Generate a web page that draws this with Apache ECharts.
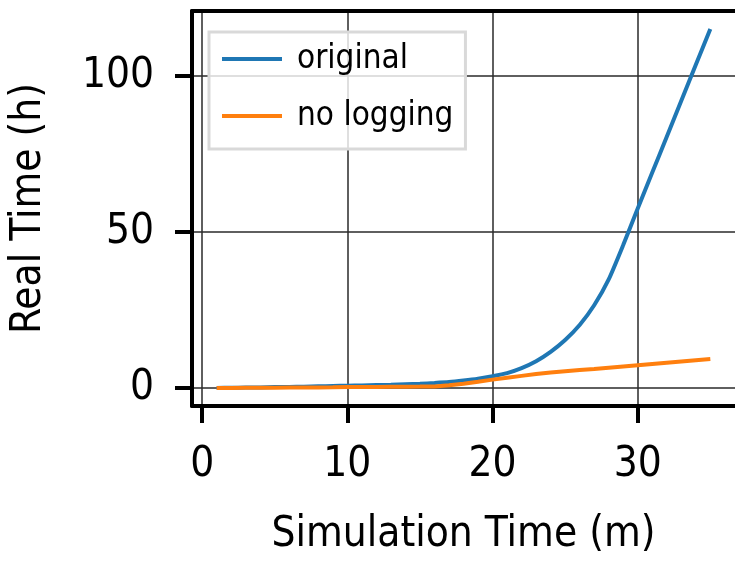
<!DOCTYPE html>
<html>
<head>
<meta charset="utf-8">
<script src="https://cdn.jsdelivr.net/npm/echarts@6/dist/echarts.min.js"></script>
<style>
  html, body { margin: 0; padding: 0; background: #fff; }
  #main { width: 735px; height: 561px; }
</style>
</head>
<body>
<div id="main"></div>
<script>
// simulation minutes
var minutes = [1, 2, 3, 4, 5, 6, 7, 8, 9, 10, 11, 12, 13, 14, 15, 16, 17, 18,
  19, 20, 21, 22, 23, 24, 25, 26, 27, 28, 29, 30, 31, 32, 33, 34, 35];
// real time in hours
var original = [0.05, 0.1, 0.15, 0.2, 0.3, 0.35, 0.45, 0.55, 0.65, 0.75, 0.85, 0.95,
  1.05, 1.2, 1.35, 1.6, 1.9, 2.4, 3.0, 3.8, 4.8, 6.4, 8.6, 11.6, 15.4, 20.2, 26.5,
  34.8, 45.8, 57.5, 69, 80.5, 92, 103.5, 115];
var noLogging = [0, 0.03, 0.06, 0.09, 0.12, 0.15, 0.18, 0.21, 0.25, 0.3, 0.33, 0.36,
  0.4, 0.43, 0.46, 0.5, 0.9, 1.4, 2.0, 2.7, 3.3, 3.9, 4.5, 5.0, 5.4, 5.8, 6.1, 6.5,
  6.9, 7.3, 7.7, 8.1, 8.5, 8.9, 9.3];
var xTicks = [0, 10, 20, 30];
var yTicks = [0, 50, 100];

var FONT = '"DejaVu Sans Condensed", "DejaVu Sans", sans-serif';

function pairs(ys) {
  return minutes.map(function (m, i) { return [m, ys[i]]; });
}

var chart = echarts.init(document.getElementById('main'));

chart.setOption({
  animation: false,
  backgroundColor: '#fff',
  grid: { left: 190, top: 11, width: 546, height: 398 },
  legend: {
    orient: 'vertical',
    left: 209,
    top: 32,
    padding: [10, 12, 16, 13],
    itemGap: 23,
    itemWidth: 60,
    itemHeight: 4,
    icon: 'rect',
    borderColor: '#d9d9d9',
    borderWidth: 3,
    backgroundColor: 'rgba(255,255,255,0.8)',
    textStyle: { fontFamily: FONT, fontSize: 33, color: '#000', lineHeight: 34, padding: [0, 0, 0, 10] },
    data: ['original', 'no logging']
  },
  xAxis: [{
    type: 'value',
    min: -0.7,
    max: 36.7,
    name: 'Simulation Time (m)',
    nameLocation: 'middle',
    nameGap: 108,
    nameTextStyle: { fontFamily: FONT, fontSize: 42, color: '#000' },
    axisLine: { show: true, onZero: false, lineStyle: { color: '#000', width: 4 } },
    axisTick: { show: true, length: 17, customValues: xTicks, lineStyle: { color: '#000', width: 4 } },
    axisLabel: { customValues: xTicks, margin: 38, fontFamily: FONT, fontSize: 42, color: '#000' },
    splitLine: { show: true, lineStyle: { color: '#2a2a2a', width: 1.5 } }
  }, {
    type: 'value',
    position: 'top',
    min: -0.7,
    max: 36.7,
    axisLine: { show: true, onZero: false, lineStyle: { color: '#000', width: 4 } },
    axisTick: { show: false },
    axisLabel: { show: false },
    splitLine: { show: false }
  }],
  yAxis: {
    type: 'value',
    min: -5.75,
    max: 120.75,
    name: 'Real Time (h)',
    nameLocation: 'middle',
    nameGap: 142,
    nameTextStyle: { fontFamily: FONT, fontSize: 42, color: '#000' },
    axisLine: { show: true, onZero: false, lineStyle: { color: '#000', width: 4 } },
    axisTick: { show: true, length: 17, customValues: yTicks, lineStyle: { color: '#000', width: 4 } },
    axisLabel: { customValues: yTicks, margin: 38, fontFamily: FONT, fontSize: 42, color: '#000' },
    splitLine: { show: true, lineStyle: { color: '#2a2a2a', width: 1.5 } }
  },
  series: [{
    name: 'original',
    type: 'line',
    data: pairs(original),
    symbol: 'none',
    smooth: 0.2,
    lineStyle: { color: '#1f77b4', width: 4 },
    itemStyle: { color: '#1f77b4' },
    z: 3
  }, {
    name: 'no logging',
    type: 'line',
    data: pairs(noLogging),
    symbol: 'none',
    lineStyle: { color: '#ff7f0e', width: 4 },
    itemStyle: { color: '#ff7f0e' },
    z: 4
  }]
});
</script>
</body>
</html>
